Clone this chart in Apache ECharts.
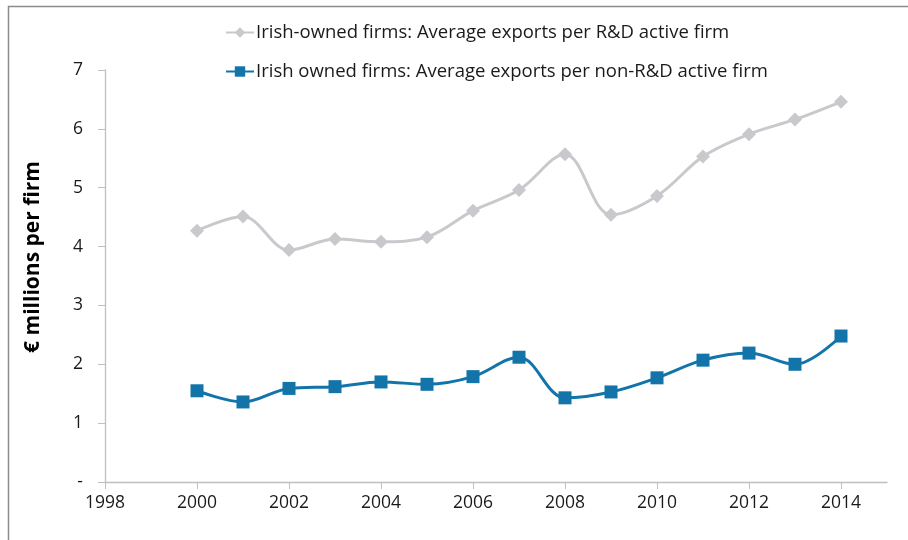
<!DOCTYPE html>
<html><head><meta charset="utf-8">
<script src="https://cdn.jsdelivr.net/npm/echarts@6/dist/echarts.min.js"></script>
<style>html,body{margin:0;padding:0;background:#fff}#c{width:908px;height:540px}</style>
</head><body><div id="c"></div>
<script>
const years = [2000,2001,2002,2003,2004,2005,2006,2007,2008,2009,2010,2011,2012,2013,2014];
const rdActive = [4.27,4.51,3.94,4.13,4.08,4.16,4.61,4.96,5.57,4.54,4.86,5.53,5.91,6.16,6.46];
const nonRdActive = [1.55,1.36,1.59,1.62,1.70,1.66,1.79,2.12,1.43,1.53,1.77,2.07,2.19,2.00,2.48];
const seriesNames = ['Irish-owned firms: Average exports per R&D active firm','Irish owned firms: Average exports per non-R&D active firm'];
const xTicks = [1998,2000,2002,2004,2006,2008,2010,2012,2014];
const yAxisTitle = '€ millions per firm';

const FONT = '"Open Sans", sans-serif';
const chart = echarts.init(document.getElementById('c'), null, {renderer:'canvas'});
chart.setOption({
  animation:false,
  backgroundColor:'#fff',
  grid:{left:105,right:21,top:70,bottom:58,containLabel:false},
  legend:{
    orient:'vertical', left:220, top:18, itemGap:20, itemWidth:28, itemHeight:13,
    textStyle:{fontFamily:FONT,fontSize:18.5,color:'#1a1a1a',padding:[0,0,0,-3]},
    data:seriesNames
  },
  graphic:[
    {type:'rect',shape:{x:8.5,y:6.5,width:1000,height:600},style:{fill:'none',stroke:'#8c8c8c',lineWidth:1.5},silent:true},
    {type:'text',x:33,y:257,rotation:Math.PI/2,style:{text:yAxisTitle,font:'bold 21px '+FONT,fill:'#000',align:'center',verticalAlign:'middle'}}
  ],
  xAxis:{
    type:'value',min:1998,max:2015,interval:2,
    axisLine:{show:true,lineStyle:{color:'#bfbfbf',width:1.3}},
    axisTick:{show:true,length:7,inside:false,lineStyle:{color:'#bfbfbf'},customValues:xTicks},
    axisLabel:{fontFamily:FONT,fontSize:17.5,color:'#1a1a1a',margin:12,customValues:xTicks,formatter:v=>String(v)},
    splitLine:{show:false}
  },
  yAxis:{
    type:'value',min:0,max:7,interval:1,
    axisLine:{show:true,lineStyle:{color:'#bfbfbf',width:1.3}},
    axisTick:{show:true,length:7,lineStyle:{color:'#bfbfbf'}},
    axisLabel:{fontFamily:FONT,fontSize:17.5,color:'#1a1a1a',margin:22,formatter:v=>v===0?'-':String(v)},
    splitLine:{show:false}
  },
  series:[
    {name:seriesNames[0],type:'line',smooth:0.35,symbol:'diamond',symbolSize:14,
     data:years.map((y,i)=>[y,rdActive[i]]),
     lineStyle:{color:'#c9c9cd',width:3},itemStyle:{color:'#c9c9cd'}},
    {name:seriesNames[1],type:'line',smooth:0.35,symbol:'rect',symbolSize:13,
     data:years.map((y,i)=>[y,nonRdActive[i]]),
     lineStyle:{color:'#1274a8',width:3},itemStyle:{color:'#1274a8'}}
  ]
});
</script></body></html>
